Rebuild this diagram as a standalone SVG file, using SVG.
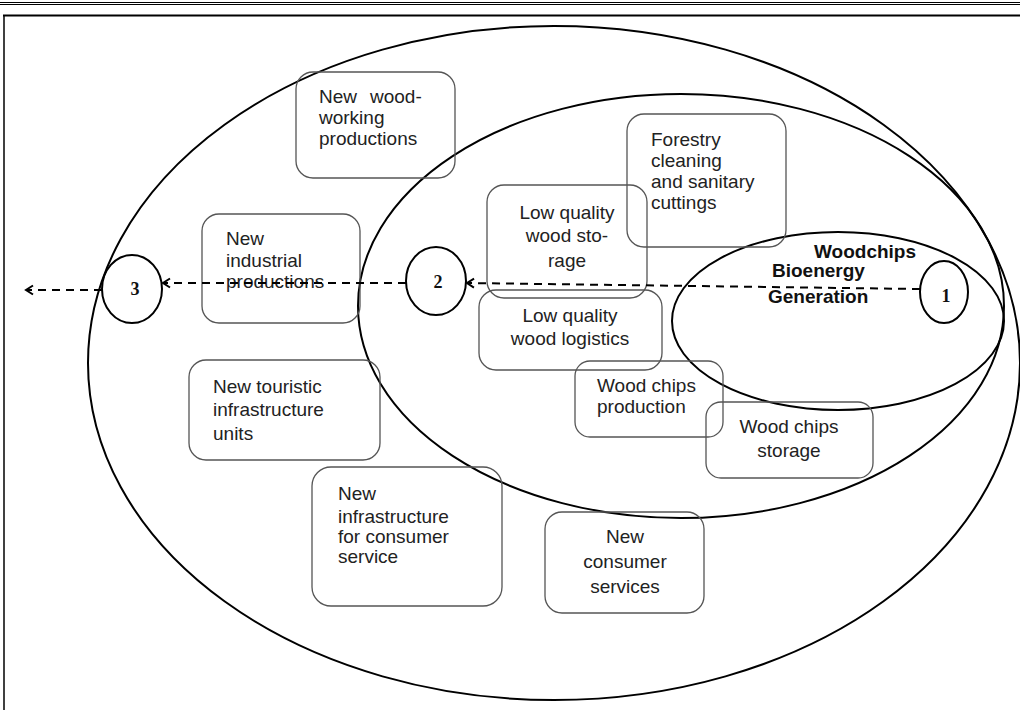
<svg xmlns="http://www.w3.org/2000/svg" width="1020" height="710" viewBox="0 0 1020 710">
<defs>
<marker id="arr" viewBox="-10 -6 12 12" markerWidth="12" markerHeight="12" refX="0" refY="0" orient="auto" markerUnits="userSpaceOnUse">
<path d="M-7,-4.5 L0,0 L-7,4.5" fill="none" stroke="#000" stroke-width="2"/>
</marker>
<style>
.ell{fill:none;stroke:#000;stroke-width:2}
.box{fill:none;stroke:#555;stroke-width:1.3}
.t{font-family:"Liberation Sans",Arial,sans-serif;font-size:19px;fill:#222}
.b{font-family:"Liberation Sans",Arial,sans-serif;font-size:19px;font-weight:bold;fill:#111}
.n{font-family:"Liberation Serif","Times New Roman",serif;font-size:18px;font-weight:bold;fill:#111;text-anchor:middle}
.c{text-anchor:middle}
.dash{fill:none;stroke:#000;stroke-width:2;stroke-dasharray:8 6}
</style>
</defs>
<rect width="1020" height="710" fill="#fff"/>
<g id="frame" stroke="#000" fill="none">
<line x1="0" y1="2.5" x2="1020" y2="2.5" stroke-width="1.2"/>
<line x1="0" y1="4.5" x2="1020" y2="4.5" stroke-width="1.2"/>
<line x1="3" y1="15.5" x2="1020" y2="15.5" stroke-width="2"/>
<line x1="4" y1="15" x2="4" y2="710" stroke-width="1.5"/>
</g>
<g id="ellipses">
<ellipse id="outer" class="ell" cx="554" cy="363" rx="466" ry="337"/>
<ellipse id="middle" class="ell" cx="681" cy="306" rx="323" ry="212"/>
<ellipse id="inner" class="ell" cx="838" cy="321" rx="166" ry="89"/>
</g>
<g id="node-woodworking">
<rect class="box" x="296" y="72" width="159" height="106" rx="17"/>
<text class="t" x="319" y="103">New</text>
<text class="t" x="370" y="103">wood-</text>
<text class="t" x="319" y="124">working</text>
<text class="t" x="319" y="145">productions</text>
</g>
<g id="node-forestry">
<rect class="box" x="627" y="114" width="159" height="133" rx="17"/>
<text class="t" x="651" y="146">Forestry</text>
<text class="t" x="651" y="167">cleaning</text>
<text class="t" x="651" y="188">and sanitary</text>
<text class="t" x="651" y="209">cuttings</text>
</g>
<g id="node-lq-storage">
<rect class="box" x="487" y="185" width="160" height="113" rx="17"/>
<text class="t c" x="567" y="219">Low quality</text>
<text class="t c" x="567" y="242">wood sto-</text>
<text class="t c" x="567" y="267">rage</text>
</g>
<g id="node-lq-logistics">
<rect class="box" x="479" y="290" width="183" height="80" rx="17"/>
<text class="t c" x="570" y="322">Low quality</text>
<text class="t c" x="570" y="345">wood logistics</text>
</g>
<g id="node-wc-production">
<rect class="box" x="575" y="361" width="148" height="76" rx="15"/>
<text class="t" x="597" y="392">Wood chips</text>
<text class="t" x="597" y="413">production</text>
</g>
<g id="node-wc-storage">
<rect class="box" x="706" y="402" width="167" height="76" rx="15"/>
<text class="t c" x="789" y="433">Wood chips</text>
<text class="t c" x="789" y="457">storage</text>
</g>
<g id="node-industrial">
<rect class="box" x="202" y="214" width="158" height="109" rx="17"/>
<text class="t" x="226" y="245">New</text>
<text class="t" x="226" y="267">industrial</text>
<text class="t" x="226" y="288">productions</text>
</g>
<g id="node-touristic">
<rect class="box" x="189" y="360" width="191" height="100" rx="17"/>
<text class="t" x="213" y="393">New touristic</text>
<text class="t" x="213" y="416">infrastructure</text>
<text class="t" x="213" y="440">units</text>
</g>
<g id="node-consumer-infra">
<rect class="box" x="312" y="467" width="190" height="139" rx="19"/>
<text class="t" x="338" y="500">New</text>
<text class="t" x="338" y="523">infrastructure</text>
<text class="t" x="338" y="543">for consumer</text>
<text class="t" x="338" y="563">service</text>
</g>
<g id="node-consumer-services">
<rect class="box" x="545" y="512" width="159" height="101" rx="17"/>
<text class="t c" x="625" y="543">New</text>
<text class="t c" x="625" y="568">consumer</text>
<text class="t c" x="625" y="593">services</text>
</g>
<g id="label-bioenergy">
<text class="b" x="814" y="258">Woodchips</text>
<text class="b" x="772" y="277">Bioenergy</text>
<text class="b" x="768" y="303">Generation</text>
</g>
<g id="connectors">
<line class="dash" x1="920" y1="289" x2="467" y2="283" marker-end="url(#arr)"/>
<line class="dash" x1="406" y1="283" x2="163" y2="283" marker-end="url(#arr)"/>
<line class="dash" x1="102" y1="290" x2="26" y2="290" marker-end="url(#arr)"/>
</g>
<g id="node-1">
<ellipse class="ell" cx="944" cy="292" rx="24" ry="31"/>
<text class="n" x="946" y="302">1</text>
</g>
<g id="node-2">
<ellipse class="ell" cx="436" cy="281" rx="30" ry="34"/>
<text class="n" x="438" y="288">2</text>
</g>
<g id="node-3">
<ellipse class="ell" cx="132" cy="289" rx="30" ry="34"/>
<text class="n" x="135" y="295">3</text>
</g>
</svg>
